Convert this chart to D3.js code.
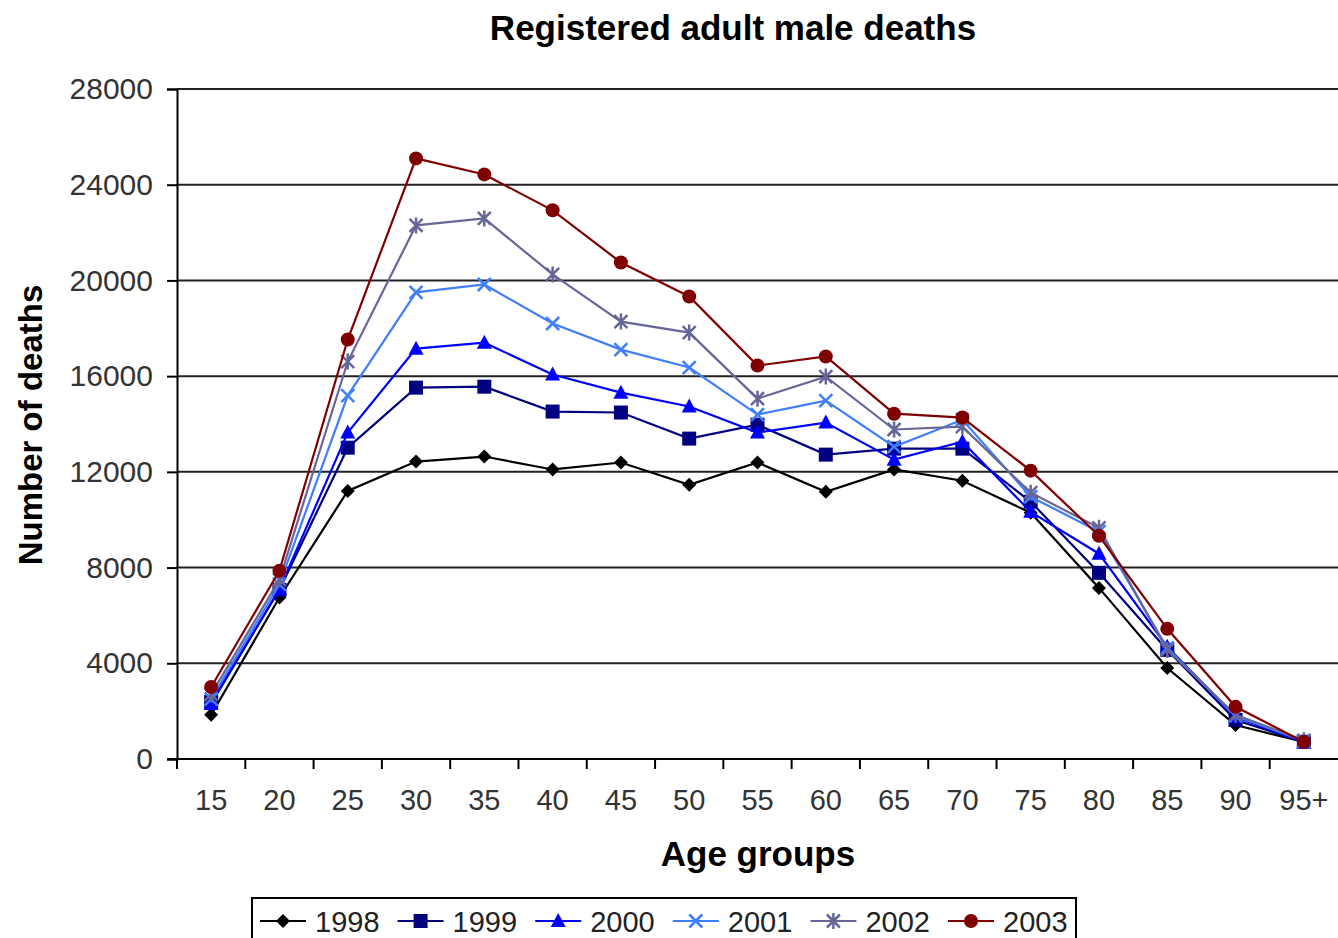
<!DOCTYPE html>
<html>
<head>
<meta charset="utf-8">
<script src="https://cdn.jsdelivr.net/npm/d3@7"></script>
<style>
  body { margin: 0; background: #fff; }
  text { font-family: "Liberation Sans", Arial, sans-serif; }
</style>
</head>
<body>
<div id="chart"></div>
<script>
var ages = ["15", "20", "25", "30", "35", "40", "45", "50", "55", "60", "65", "70", "75", "80", "85", "90", "95+"]
var yTicks = [0, 4000, 8000, 12000, 16000, 20000, 24000, 28000]

var d1998 = [1850, 6750, 11200, 12430, 12640, 12100, 12390, 11460, 12390, 11170, 12100, 11630, 10290, 7150, 3800, 1420, 710]
var d1999 = [2390, 7070, 13010, 15520, 15560, 14520, 14480, 13390, 13970, 12720, 12970, 12970, 10750, 7780, 4560, 1630, 720]
var d2000 = [2300, 7100, 13640, 17150, 17400, 16070, 15310, 14730, 13640, 14060, 12510, 13260, 10330, 8580, 4690, 1760, 700]
var d2001 = [2500, 7300, 15190, 19500, 19830, 18200, 17110, 16360, 14390, 14980, 13050, 14180, 10960, 9500, 4640, 1800, 750]
var d2002 = [2700, 7500, 16610, 22300, 22590, 20250, 18280, 17820, 15060, 15980, 13770, 13890, 11130, 9660, 4560, 1850, 780]
var d2003 = [3010, 7870, 17530, 25100, 24430, 22930, 20750, 19330, 16440, 16820, 14430, 14270, 12050, 9330, 5440, 2180, 710]

var series = [
  { name: "1998", values: d1998, color: "#000000", marker: "diamond" },
  { name: "1999", values: d1999, color: "#000080", marker: "square" },
  { name: "2000", values: d2000, color: "#0000ff", marker: "triangle" },
  { name: "2001", values: d2001, color: "#3f7fff", marker: "x" },
  { name: "2002", values: d2002, color: "#666699", marker: "star" },
  { name: "2003", values: d2003, color: "#800000", marker: "circle" }
]

var width = 1338, height = 938
var plotLeft = 177, plotRight = 1338, plotTop = 89, plotBottom = 759

var svg = d3.select("#chart").append("svg")
  .attr("width", width)
  .attr("height", height)

var x = d3.scaleBand().domain(ages).range([plotLeft, plotRight]).padding(0)
var y = d3.scaleLinear().domain([0, 28000]).range([plotBottom, plotTop])

// gridlines
svg.append("g")
  .attr("class", "grid")
  .selectAll("line")
  .data(yTicks.slice(1))
  .enter()
  .append("line")
  .attr("x1", plotLeft)
  .attr("x2", plotRight)
  .attr("y1", function(d) { return y(d) })
  .attr("y2", function(d) { return y(d) })
  .style("stroke", "#222")
  .style("stroke-width", 2)

// y axis
var yAxis = svg.append("g")
  .attr("transform", "translate(" + plotLeft + ",0)")
  .call(d3.axisLeft(y).tickValues(yTicks).tickSize(10).tickPadding(14).tickFormat(d3.format("d")))
yAxis.select(".domain").style("stroke", "#000").style("stroke-width", 2)
yAxis.selectAll(".tick line").style("stroke", "#000").style("stroke-width", 2)
yAxis.selectAll("text")
  .style("font-size", "30px")
  .style("fill", "#333")
  .style("font-family", "'Liberation Sans', Arial, sans-serif")

// x axis
var xAxis = svg.append("g")
  .attr("transform", "translate(0," + plotBottom + ")")
  .call(d3.axisBottom(x).tickSize(0).tickPadding(30))
xAxis.select(".domain").remove()
xAxis.append("line")
  .attr("x1", plotLeft - 10).attr("x2", plotRight)
  .style("stroke", "#000").style("stroke-width", 2)
xAxis.selectAll("text")
  .style("font-size", "29px")
  .style("fill", "#333")
  .style("font-family", "'Liberation Sans', Arial, sans-serif")
xAxis.selectAll(".sep")
  .data(ages)
  .enter()
  .append("line")
  .attr("class", "sep")
  .attr("x1", function(d) { return x(d) })
  .attr("x2", function(d) { return x(d) })
  .attr("y1", 0).attr("y2", 10)
  .style("stroke", "#000").style("stroke-width", 2)

function markerPath(type) {
  var s = 7
  if (type === "diamond") return "M0," + (-s) + "L" + s + ",0L0," + s + "L" + (-s) + ",0Z"
  if (type === "square") return "M" + (-s) + "," + (-s) + "H" + s + "V" + s + "H" + (-s) + "Z"
  if (type === "triangle") return "M0," + (-s - 1) + "L" + (s + 0.5) + "," + (s - 1) + "H" + (-s - 0.5) + "Z"
  if (type === "x") return "M-6.5,-6.5L6.5,6.5M-6.5,6.5L6.5,-6.5"
  if (type === "star") return "M-6.5,-6.5L6.5,6.5M-6.5,6.5L6.5,-6.5M0,-8V8"
  return null
}

var line = d3.line()
  .x(function(d, i) { return x(ages[i]) + x.bandwidth() / 2 })
  .y(function(d) { return y(d) })

var sGroups = svg.append("g")
  .attr("class", "series")
  .selectAll("g")
  .data(series)
  .enter()
  .append("g")

sGroups.append("path")
  .attr("d", function(d) { return line(d.values) })
  .attr("fill", "none")
  .style("stroke", function(d) { return d.color })
  .style("stroke-width", 2.2)

sGroups.each(function(s) {
  var g = d3.select(this)
  var pts = g.selectAll(".pt")
    .data(s.values)
    .enter()
    .append("g")
    .attr("class", "pt")
    .attr("transform", function(d, i) {
      return "translate(" + (x(ages[i]) + x.bandwidth() / 2) + "," + y(d) + ")"
    })
  drawMarker(pts, s)
})

function drawMarker(sel, s) {
  if (s.marker === "circle") {
    sel.append("circle").attr("r", 7).style("fill", s.color)
  } else if (s.marker === "x" || s.marker === "star") {
    sel.append("path").attr("d", markerPath(s.marker))
      .attr("fill", "none").style("stroke", s.color).style("stroke-width", 2.5)
  } else {
    sel.append("path").attr("d", markerPath(s.marker)).style("fill", s.color)
  }
}

// title and axis labels
svg.append("text")
  .attr("x", 733).attr("y", 40)
  .attr("text-anchor", "middle")
  .style("font-size", "35px").style("font-weight", "bold")
  .text("Registered adult male deaths")

svg.append("text")
  .attr("x", 758).attr("y", 866)
  .attr("text-anchor", "middle")
  .style("font-size", "35px").style("font-weight", "bold")
  .text("Age groups")

svg.append("text")
  .attr("transform", "translate(42,425) rotate(-90)")
  .attr("text-anchor", "middle")
  .style("font-size", "33px").style("font-weight", "bold")
  .text("Number of deaths")

// legend
var legend = svg.append("g").attr("class", "legend")
legend.append("rect")
  .attr("x", 252).attr("y", 898)
  .attr("width", 824).attr("height", 60)
  .attr("fill", "#fff")
  .style("stroke", "#000").style("stroke-width", 2)

var items = legend.selectAll(".item")
  .data(series)
  .enter()
  .append("g")
  .attr("class", "item")
  .attr("transform", function(d, i) { return "translate(" + (260 + i * 137.6) + ",921)" })

items.append("line")
  .attr("x1", 0).attr("x2", 46)
  .style("stroke", function(d) { return d.color })
  .style("stroke-width", 2)

items.each(function(s) {
  var m = d3.select(this).append("g").attr("transform", "translate(23,0)")
  drawMarker(m, s)
})

items.append("text")
  .attr("x", 55).attr("y", 11)
  .style("font-size", "29px")
  .style("fill", "#222")
  .text(function(d) { return d.name })
</script>
</body>
</html>
